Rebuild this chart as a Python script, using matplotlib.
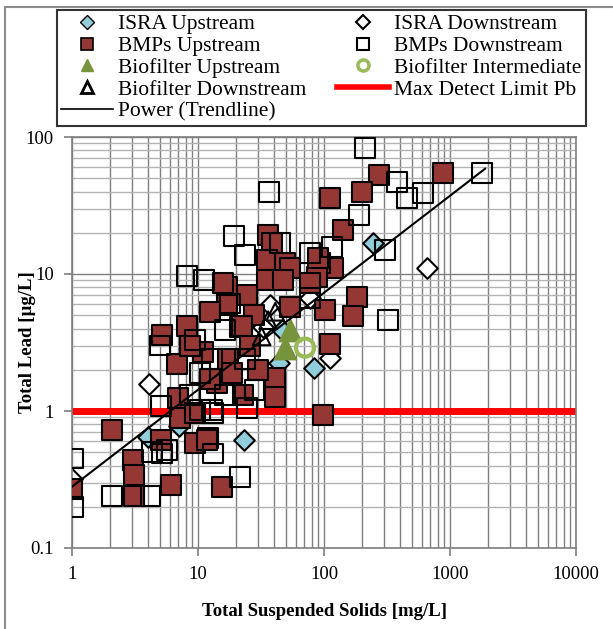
import numpy as np
import matplotlib
matplotlib.use('Agg')
import matplotlib.pyplot as plt
from matplotlib.lines import Line2D
from matplotlib.patches import Rectangle
from matplotlib.ticker import FixedLocator, FixedFormatter, NullFormatter, LogLocator

plt.rcParams['font.family'] = ['Liberation Serif', 'DejaVu Serif']

# ---- data (TSS mg/L, Pb ug/L) ----
isra_up_tss = [245, 83, 7.1, 23.2, 4.0, 44, 46, 3.05, 18]
isra_up_pb = [16.8, 2.06, 0.78, 0.61, 0.65, 2.24, 3.9, 0.37, 2.0]

isra_down_tss = [657, 112, 4.1, 37, 33, 77, 1.0]
isra_down_pb = [11.1, 2.44, 1.57, 5.9, 4.1, 6.7, 0.32]

bmp_up_tss = [880, 273, 200, 112, 141, 183, 170, 118, 98, 112, 102, 93, 88, 54,
              36, 39, 35, 49, 54, 35, 47, 77, 90, 17, 24.5, 17, 28, 21.5, 15.8,
              12.5, 5.2, 8.2, 6.8, 6.9, 7.2, 9.5, 14.2, 12.5, 2.08, 5.1, 9.5, 12.0,
              3.05, 3.1, 3.1, 6.1, 1.0, 15.5, 41, 41, 22.8, 11.8, 22.4, 11, 17.3,
              25.9, 8.6, 18.6, 30]
bmp_up_pb = [54.6, 52.8, 39.7, 35.9, 20.9, 6.8, 4.9, 11.1, 0.94, 3.1, 5.5, 12.0, 9.5, 5.7,
             19.3, 16.8, 12.7, 12.0, 11.1, 9.0, 9.0, 8.6, 13.1, 8.0, 7.0, 5.9, 5.0, 4.1, 8.6,
             5.3, 3.6, 4.2, 2.2, 1.24, 0.89, 0.97, 1.6, 1.7, 0.73, 0.61, 0.58, 0.64,
             0.44, 0.34, 0.24, 0.29, 0.27, 0.28, 1.74, 1.27, 1.31, 0.61, 4.2, 2.7, 2.4,
             3.0, 3.0, 1.9, 2.0]

bmp_down_tss = [211, 1795, 380, 456, 611, 190, 305, 322, 116, 36.6, 19.3, 23.6, 8.2,
                11.2, 77, 44.8, 18, 77, 5.1, 10.4, 12.9, 1.02, 1.02, 2.08, 4.2, 5.2,
                4.3, 5.7, 13.2, 21.5, 13.2, 24.5, 10.4, 8.6, 16.4, 28, 12.9, 23.6,
                9.5, 16.4, 5.0]
bmp_down_pb = [83, 54.6, 47, 35.9, 39, 27, 15, 4.6, 15.7, 39.7, 18.9, 13.8, 9.7,
               9.0, 14.2, 16.8, 6.1, 6.7, 1.09, 1.02, 1.02, 0.45, 0.2, 0.24, 0.24, 0.49,
               0.50, 0.52, 0.49, 0.33, 0.97, 1.05, 1.9, 1.31, 1.31, 1.42, 2.4, 2.4,
               3.3, 3.9, 3.0]

bio_up_tss = [54, 49]
bio_up_pb = [3.9, 2.9]

bio_mid_tss = [70.7]
bio_mid_pb = [2.9]

bio_down_tss = [36, 32, 41]
bio_down_pb = [4.6, 3.5, 5.3]

detect_limit = 1.0
trend_a, trend_b = 0.28, 0.708      # power trendline y = a * x^b
trend_xmin, trend_xmax = 1, 1900

# ---- figure ----
fig = plt.figure(figsize=(6.13, 6.29), dpi=100)
ax = fig.add_axes([72/613, 1-548/629, (576-72)/613, (548-137)/629])

ax.set_xscale('log')
ax.set_yscale('log')
ax.set_xlim(1, 10000)
ax.set_ylim(0.1, 100)

ax.xaxis.grid(True, which='both', color='#7f7f7f', lw=1.0, zorder=0)
ax.yaxis.grid(True, which='major', color='#7f7f7f', lw=1.0, zorder=0)
ax.yaxis.grid(True, which='minor', color='#b3b3b3', lw=1.0, zorder=0)
ax.set_axisbelow(True)

brown = '#953735'
cyan = '#92CDDC'
green = '#77933C'
lgreen = '#9BBB59'

ax.axhline(detect_limit, color='#ff0000', lw=5, zorder=1)

ax.scatter(isra_up_tss, isra_up_pb, marker='D', s=110, facecolor=cyan,
           edgecolor='black', lw=1.5, zorder=2)
ax.scatter(isra_down_tss, isra_down_pb, marker='D', s=110, facecolor='white',
           edgecolor='black', lw=1.5, zorder=2)
ax.scatter(bmp_up_tss, bmp_up_pb, marker='s', s=200, facecolor=brown,
           edgecolor='black', lw=1.5, zorder=3)
ax.scatter(bmp_down_tss, bmp_down_pb, marker='s', s=200, facecolor='none',
           edgecolor='black', lw=1.5, zorder=3)
ax.scatter(bio_up_tss, bio_up_pb, marker='^', s=260, facecolor=green,
           edgecolor=green, lw=1, zorder=4)
ax.scatter(bio_mid_tss, bio_mid_pb, marker='o', s=170, facecolor='none',
           edgecolor=lgreen, lw=3, zorder=4)
ax.scatter(bio_down_tss, bio_down_pb, marker='^', s=160, facecolor='none',
           edgecolor='black', lw=1.5, zorder=4)

xt = np.logspace(np.log10(trend_xmin), np.log10(trend_xmax), 50)
ax.plot(xt, trend_a * xt ** trend_b, color='black', lw=1.5, zorder=5)

# ticks
ax.xaxis.set_major_locator(FixedLocator([1, 10, 100, 1000, 10000]))
ax.xaxis.set_major_formatter(FixedFormatter(['1', '10', '100', '1000', '10000']))
ax.yaxis.set_major_locator(FixedLocator([0.1, 1, 10, 100]))
ax.yaxis.set_major_formatter(FixedFormatter(['0.1', '1', '10', '100']))
ax.xaxis.set_minor_locator(LogLocator(base=10, subs=np.arange(2, 10), numticks=20))
ax.yaxis.set_minor_locator(LogLocator(base=10, subs=np.arange(2, 10), numticks=20))
ax.xaxis.set_minor_formatter(NullFormatter())
ax.yaxis.set_minor_formatter(NullFormatter())
ax.tick_params(which='major', length=6, width=1.2, color='#7f7f7f', labelsize=13.5, pad=7)
ax.tick_params(which='minor', length=0)
for sp in ax.spines.values():
    sp.set_color('#7f7f7f')
    sp.set_linewidth(1.2)

ax.set_xlabel('Total Suspended Solids [mg/L]', fontsize=13.5, fontweight='bold', labelpad=14)
ax.set_ylabel('Total Lead [µg/L]', fontsize=13.5, fontweight='bold')
ax.yaxis.set_label_coords(-0.071, 0.5)

# legend (column-major order)
h_isra_up = Line2D([], [], ls='none', marker='D', ms=7, mfc=cyan, mec='black', mew=1)
h_isra_dn = Line2D([], [], ls='none', marker='D', ms=7, mfc='white', mec='black', mew=1.5)
h_bmp_up = Line2D([], [], ls='none', marker='s', ms=9, mfc=brown, mec='black', mew=1.2)
h_bmp_dn = Line2D([], [], ls='none', marker='s', ms=9, mfc='white', mec='black', mew=1.5)
h_bio_up = Line2D([], [], ls='none', marker='^', ms=9, mfc=green, mec=green)
h_bio_mid = Line2D([], [], ls='none', marker='o', ms=8, mfc='white', mec=lgreen, mew=2.5)
h_bio_dn = Line2D([], [], ls='none', marker='^', ms=8, mfc='white', mec='black', mew=2)
h_limit = Line2D([], [], color='#ff0000', lw=4)
h_trend = Line2D([], [], color='black', lw=1.2)

handles = [h_isra_up, h_bmp_up, h_bio_up, h_bio_dn, h_trend,
           h_isra_dn, h_bmp_dn, h_bio_mid, h_limit]
labels = ['ISRA Upstream', 'BMPs Upstream', 'Biofilter Upstream', 'Biofilter Downstream',
          'Power (Trendline)', 'ISRA Downstream', 'BMPs Downstream',
          'Biofilter Intermediate', 'Max Detect Limit Pb']
leg = fig.legend(handles, labels, ncol=2, loc='upper left',
                 bbox_to_anchor=(57/613, 1-10/629), fontsize=15.5, frameon=True,
                 fancybox=False, edgecolor='black', handlelength=2.4, handletextpad=0.25,
                 columnspacing=1.4, labelspacing=0.08, borderpad=0.2, borderaxespad=0)
leg.get_frame().set_linewidth(1.5)

fig.patches.append(Rectangle((5/613, -0.05), 1.1, 1.05-7/629, transform=fig.transFigure,
                             fill=False, edgecolor='#8c8c8c', lw=1.5))

fig.savefig('out.png', dpi=100)
